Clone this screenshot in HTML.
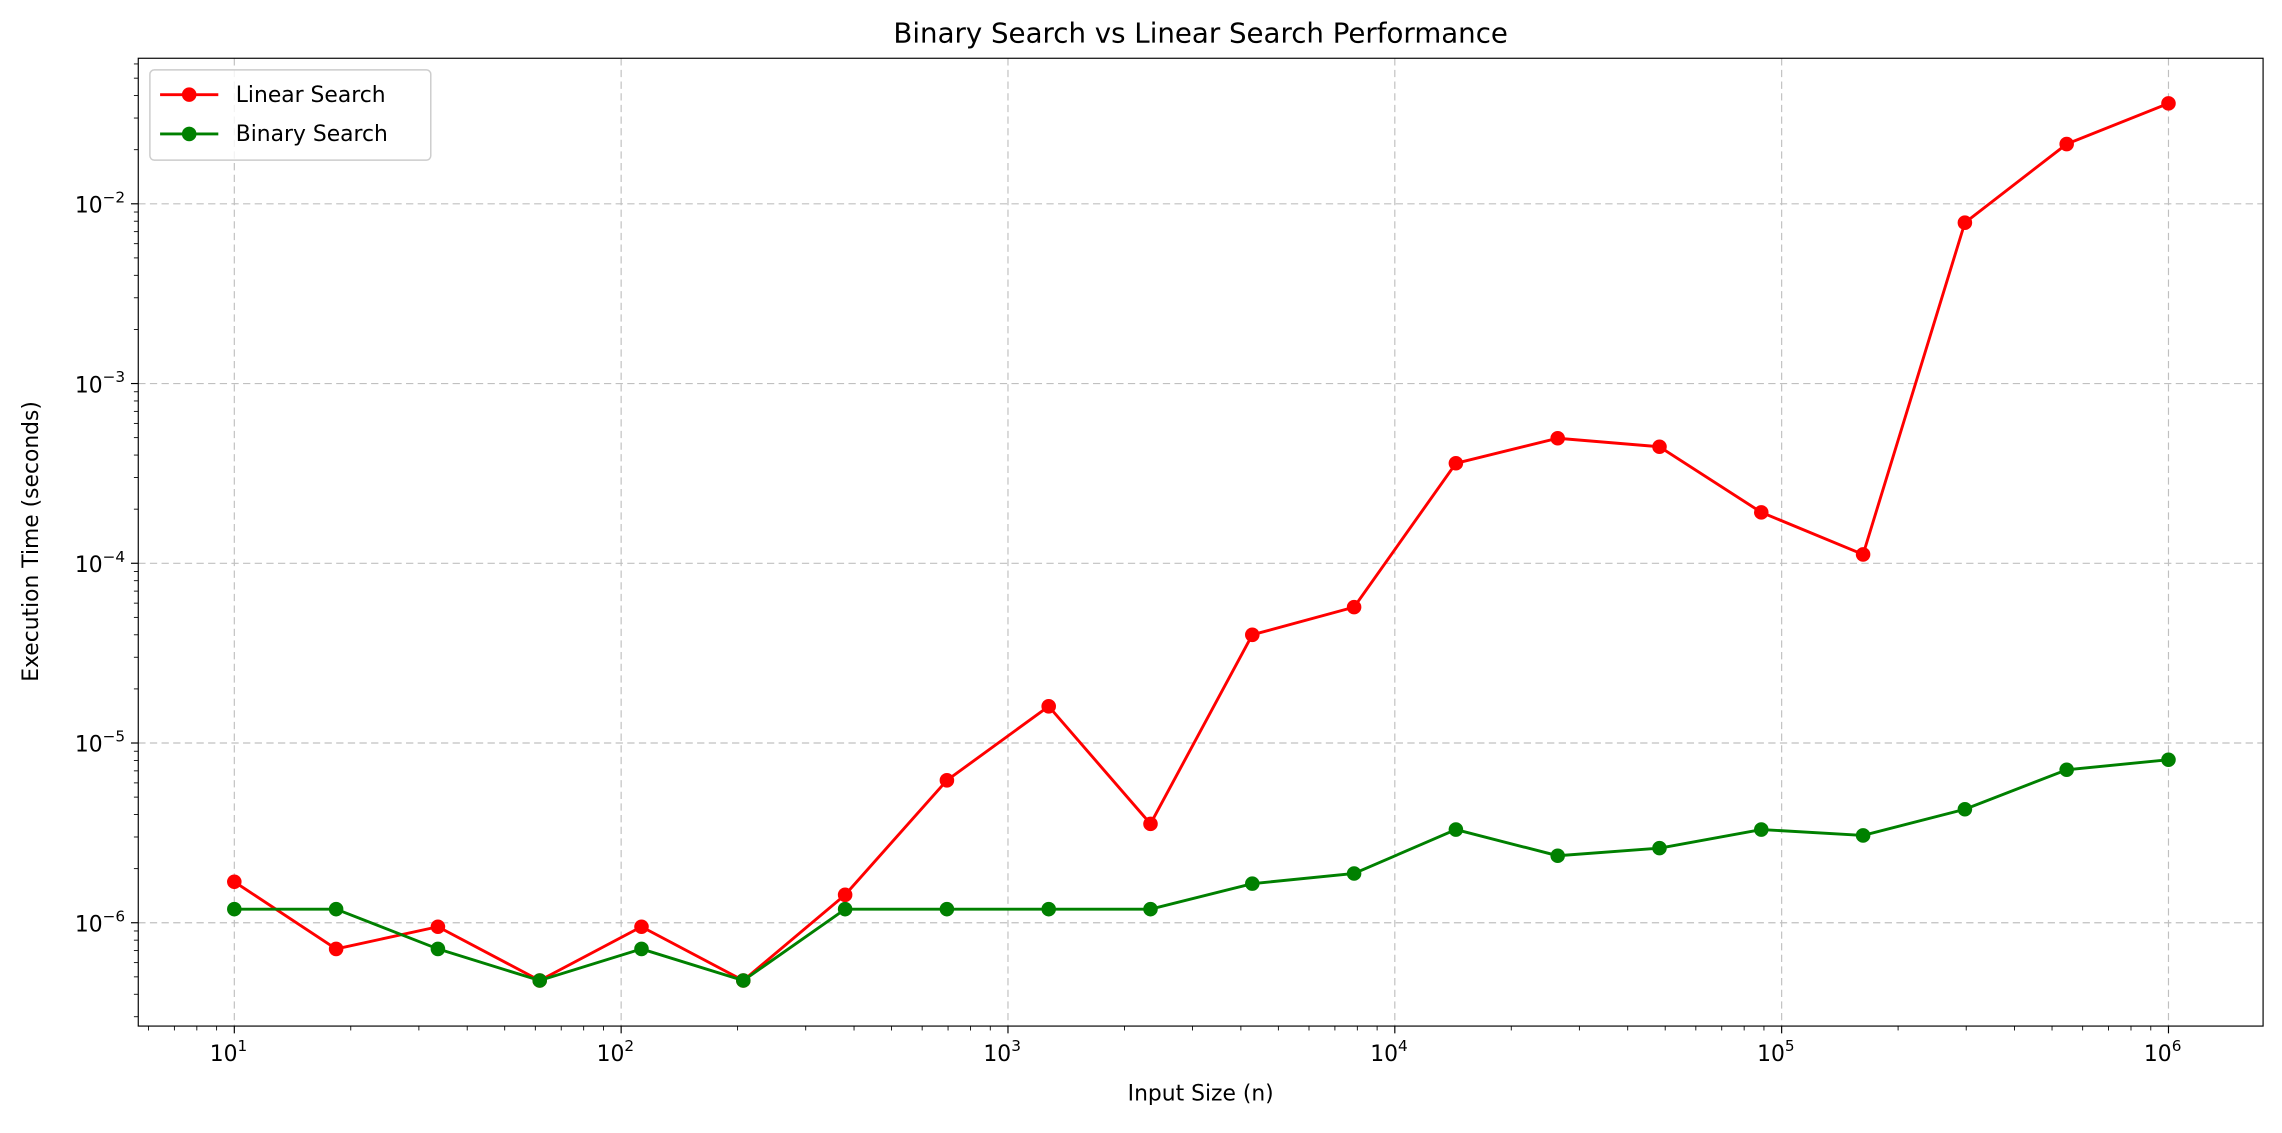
<!DOCTYPE html>
<html><head><meta charset="utf-8"><style>
body{margin:0;background:#fff;font-family:"Liberation Sans","DejaVu Sans",sans-serif;overflow:hidden}
</style></head><body>
<svg id="chart" width="2282" height="1128" viewBox="0 0 1568 775" xmlns="http://www.w3.org/2000/svg" font-family="DejaVu Sans, Liberation Sans, sans-serif">
<rect width="1568" height="775" fill="#fff"/>
<g id="grid"></g><g id="axes"></g><g id="series"></g>
<text x="825" y="29" text-anchor="middle" font-size="19">Binary Search vs Linear Search Performance</text>
<text x="825" y="756" text-anchor="middle" font-size="15">Input Size (n)</text>
<text transform="translate(26,372) rotate(-90)" text-anchor="middle" font-size="15">Execution Time (seconds)</text>
<g>
<rect x="103" y="48" width="193" height="62" fill="#fff" fill-opacity="0.8" stroke="#ccc" rx="3"/>
<g><line x1="110" y1="65" x2="150" y2="65" stroke="red" stroke-width="2"/><circle cx="130" cy="65" r="5" fill="red"/><text x="162" y="70" font-size="15">Linear Search</text></g>
<g><line x1="110" y1="92" x2="150" y2="92" stroke="green" stroke-width="2"/><circle cx="130" cy="92" r="5" fill="green"/><text x="162" y="97" font-size="15">Binary Search</text></g>
</g>
</svg>
<script>
const sizes=[10,18.33,33.6,61.58,112.88,206.9,379.3,695.2,1274.3,2335.7,4281.3,7847.6,14384,26367,48329,88587,162378,297635,545559,1000000];
const linearTimes=[1.69e-6,7.15e-7,9.5e-7,4.77e-7,9.5e-7,4.77e-7,1.43e-6,6.2e-6,1.6e-5,3.55e-6,4.0e-5,5.7e-5,3.6e-4,4.96e-4,4.45e-4,1.92e-4,1.12e-4,7.85e-3,2.15e-2,3.62e-2];
const binaryTimes=[1.19e-6,1.19e-6,7.15e-7,4.77e-7,7.15e-7,4.77e-7,1.19e-6,1.19e-6,1.19e-6,1.19e-6,1.65e-6,1.88e-6,3.3e-6,2.36e-6,2.6e-6,3.3e-6,3.06e-6,4.28e-6,7.1e-6,8.07e-6];
const xTickExps=[1,2,3,4,5,6];
const yTickExps=[-6,-5,-4,-3,-2];
const L=95,R=1555,T=40,B=705;
const X=v=>161+(Math.log10(v)-1)*265.8;
const Y=v=>634-(Math.log10(v)+6)*123.5;
const NS="http://www.w3.org/2000/svg";
function mk(p,t,a){const e=document.createElementNS(NS,t);for(const k in a)e.setAttribute(k,a[k]);p.appendChild(e);return e;}
const grid=document.getElementById('grid'),axes=document.getElementById('axes'),ser=document.getElementById('series');
xTickExps.forEach(e=>{const x=X(Math.pow(10,e));
 const g=mk(grid,'line',{x1:x,x2:x,y1:T,y2:B,stroke:'#c0c0c0','stroke-dasharray':'5,3','stroke-width':0.8});
 
 mk(axes,'line',{x1:x,x2:x,y1:B,y2:B+5,stroke:'#000','stroke-width':0.8});
 const t=mk(axes,'text',{x:x-4,y:B+24,'text-anchor':'middle','font-size':15});t.innerHTML='10<tspan dy="-7" font-size="10.5">'+e+'</tspan>';
 
});
for(let e=0;e<=6;e++)for(let m=2;m<10;m++){const v=m*Math.pow(10,e);const x=X(v);if(x>L&&x<R)mk(axes,'line',{x1:x,x2:x,y1:B,y2:B+3,stroke:'#000','stroke-width':0.6});}
yTickExps.forEach(e=>{const y=Y(Math.pow(10,e));
 const g=mk(grid,'line',{x1:L,x2:R,y1:y,y2:y,stroke:'#c0c0c0','stroke-dasharray':'5,3','stroke-width':0.8});
 
 mk(axes,'line',{x1:L-5,x2:L,y1:y,y2:y,stroke:'#000','stroke-width':0.8});
 const t=mk(axes,'text',{x:L-9,y:y+6,'text-anchor':'end','font-size':15});t.innerHTML='10<tspan dy="-7" font-size="10.5">\u2212'+(-e)+'</tspan>';
 
});
for(let e=-7;e<=-1;e++)for(let m=2;m<10;m++){const y=Y(m*Math.pow(10,e));if(y>T&&y<B)mk(axes,'line',{x1:L-3,x2:L,y1:y,y2:y,stroke:'#000','stroke-width':0.6});}
const fr=mk(axes,'rect',{x:L,y:T,width:R-L,height:B-T,fill:'none',stroke:'#000','stroke-width':0.8});

function draw(vals,color,name){
 const pts=sizes.map((s,i)=>X(s)+','+Y(vals[i])).join(' ');
 const pl=mk(ser,'polyline',{points:pts,fill:'none',stroke:color,'stroke-width':2});
 
 sizes.forEach((s,i)=>{const c=mk(ser,'circle',{cx:X(s),cy:Y(vals[i]),r:5,fill:color});
  });
}
draw(linearTimes,'red','linear-search');
draw(binaryTimes,'green','binary-search');
</script>
</body></html>
